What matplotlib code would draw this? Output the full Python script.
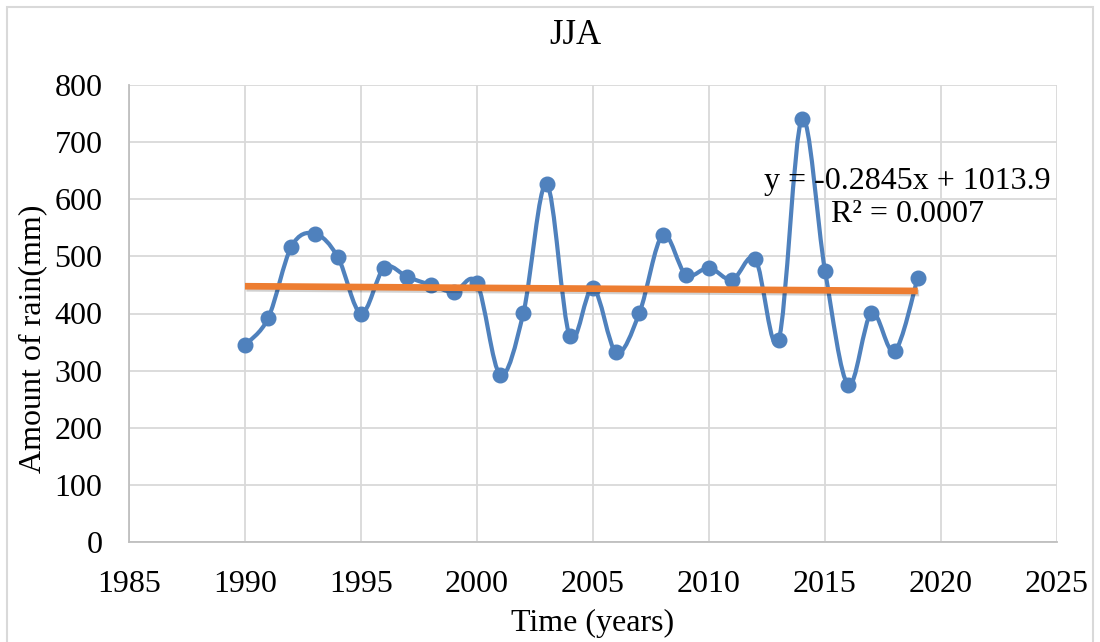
import numpy as np
import matplotlib
matplotlib.use("Agg")
import matplotlib.pyplot as plt
from matplotlib.path import Path
from matplotlib.patches import PathPatch, Rectangle
import matplotlib.patheffects as pe

plt.rcParams['font.family'] = ['Liberation Serif', 'DejaVu Serif']

years = list(range(1990, 2020))
rain = [345, 392, 517, 540, 499, 400, 480, 464, 450, 438,
        453, 293, 401, 627, 360, 445, 332, 401, 537, 468,
        480, 459, 495, 353, 740, 475, 275, 401, 334, 463]
slope = -0.2845
intercept = 1013.9
r2 = 0.0007

x_ticks = [1985, 1990, 1995, 2000, 2005, 2010, 2015, 2020, 2025]
y_ticks = [0, 100, 200, 300, 400, 500, 600, 700, 800]

blue = '#4F81BD'
orange = '#ED7D31'


def smooth_path(xs, ys):
    # Catmull-Rom as cubic Bezier segments (like Excel's smoothed line)
    pts = np.column_stack([xs, ys]).astype(float)
    ext = np.vstack([pts[0], pts, pts[-1]])
    verts = [pts[0]]
    codes = [Path.MOVETO]
    for i in range(1, len(ext) - 2):
        p0, p1, p2, p3 = ext[i - 1], ext[i], ext[i + 1], ext[i + 2]
        c1 = p1 + (p2 - p0) / 6.0
        c2 = p2 - (p3 - p1) / 6.0
        verts += [c1, c2, p2]
        codes += [Path.CURVE4] * 3
    return Path(verts, codes)


W, H = 1100, 642
fig = plt.figure(figsize=(11, 6.42), dpi=100)
ax = fig.add_axes([129 / W, 1 - 542 / H, (1057 - 129) / W, (542 - 85) / H])

ax.set_xlim(1985, 2025)
ax.set_ylim(0, 800)
ax.set_xticks(x_ticks)
ax.set_yticks(y_ticks)
ax.grid(True, color='#D9D9D9', linewidth=1.3)
ax.set_axisbelow(True)
for s in ['top', 'right']:
    ax.spines[s].set_visible(False)
for s in ['left', 'bottom']:
    ax.spines[s].set_color('#BFBFBF')
    ax.spines[s].set_linewidth(1.3)
ax.tick_params(length=0, labelsize=23, colors='black')
ax.tick_params(axis='y', pad=19)
ax.tick_params(axis='x', pad=20)

patch = PathPatch(smooth_path(years, rain), facecolor='none', edgecolor=blue,
                  linewidth=3.0, zorder=3, capstyle='round', joinstyle='round')
ax.add_patch(patch)
ax.plot(years, rain, linestyle='none', marker='o', markersize=10.5,
        color=blue, zorder=4)

tx = np.array([years[0], years[-1]])
ax.plot(tx, slope * tx + intercept, color=orange, linewidth=4.8,
        solid_capstyle='butt', zorder=5,
        path_effects=[pe.SimpleLineShadow(offset=(1, -1.5), alpha=0.18),
                      pe.Normal()])

eq = 'y = -0.2845x + 1013.9\nR² = 0.0007'
ax.text(2018.55, 602, eq, ha='center', va='center',
        fontsize=23, linespacing=1.2, zorder=6)

fig.text(575 / W, 1 - 36 / H, 'JJA', ha='center', va='center', fontsize=25)
fig.text(593 / W, 1 - 623 / H, 'Time (years)', ha='center', va='center', fontsize=23)
fig.text(33 / W, 1 - 339 / H, 'Amount of rain(mm)', ha='center', va='center',
         rotation=90, fontsize=23)

fig.patches.append(Rectangle((7 / W, -0.01), 1086 / W, 1 - 7 / H + 0.01,
                             transform=fig.transFigure, fill=False,
                             edgecolor='#D9D9D9', linewidth=1.5))

fig.savefig('out.png', dpi=100)
